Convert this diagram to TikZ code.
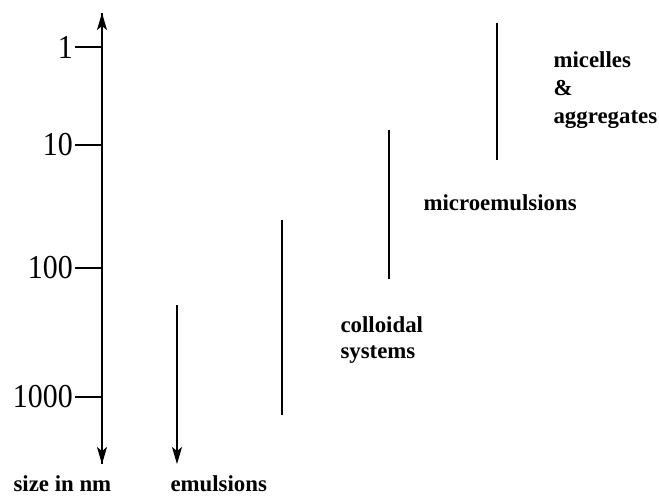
\documentclass[tikz,border=0pt]{standalone}
\usepackage{fontspec}
\setmainfont{Liberation Serif}
\usetikzlibrary{arrows.meta}
\begin{document}
\begin{tikzpicture}[x=0.02cm,y=-0.02cm, line width=0.6pt,
  tip/.style={-{Stealth[length=0.34cm,width=0.2cm,inset=0.08cm]}},
  num/.style={font=\fontsize{17}{20}\selectfont,yscale=1.12,inner sep=1pt,anchor=east},
  lab/.style={font=\fontsize{13}{15}\bfseries\selectfont,inner sep=0pt,align=left}]
  \useasboundingbox (0,0) rectangle (659,495);
  % size axis
  \coordinate (top) at (102,13);
  \coordinate (bot) at (102,464);
  \draw[tip] (bot) -- (top);
  \draw[tip] (top) -- (bot);
  \node [num] (n1) at (75,47) {1};
  \node [num] (n10) at (75,145) {10};
  \node [num] (n100) at (75,268) {100};
  \node [num] (n1000) at (75,397) {1000};
  \draw (n1.east) -- (n1.east -| top);
  \draw (n10.east) -- (n10.east -| top);
  \draw (n100.east) -- (n100.east -| top);
  \draw (n1000.east) -- (n1000.east -| top);
  \node [lab,anchor=base west] (size) at (13,491) {size in nm};
  % ranges
  \coordinate (e1) at (177,305);
  \coordinate (e2) at (177,464);
  \draw[tip] (e1) -- (e2);
  \node [lab,anchor=base west] (emul) at (170,491) {emulsions};
  \coordinate (c1) at (282,220);
  \coordinate (c2) at (282,415);
  \draw (c1) -- (c2);
  \node [lab,anchor=west] (coll) at (340,340) {colloidal\\systems};
  \coordinate (m1) at (389,130);
  \coordinate (m2) at (389,279);
  \draw (m1) -- (m2);
  \node [lab,anchor=west] (micro) at (423,203) {microemulsions};
  \coordinate (a1) at (497,23);
  \coordinate (a2) at (497,160);
  \draw (a1) -- (a2);
  \node [lab,anchor=west,font=\fontsize{13}{16}\bfseries\selectfont] (mic) at (553,90) {micelles\\\&\\aggregates};
\end{tikzpicture}
\end{document}
